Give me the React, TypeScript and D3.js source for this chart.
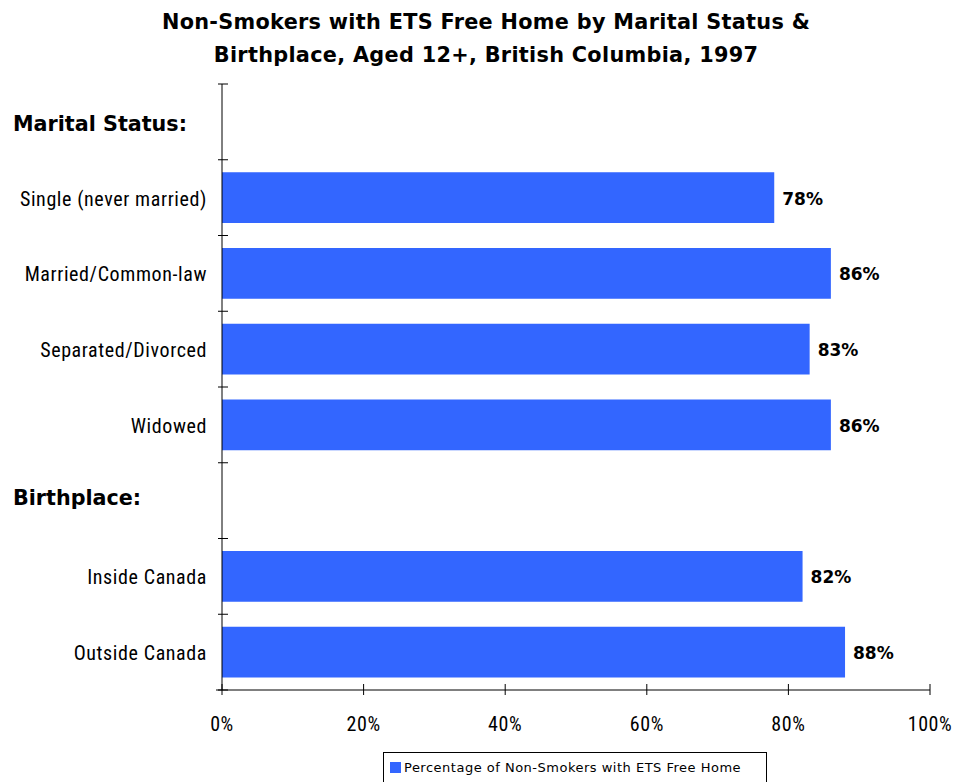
import React from "react";
import * as d3 from "d3";

const categories = [
  "Marital Status:",
  "Single (never married)",
  "Married/Common-law",
  "Separated/Divorced",
  "Widowed",
  "Birthplace:",
  "Inside Canada",
  "Outside Canada",
];
const headers = ["Marital Status:", "Birthplace:"];
const values: (number | null)[] = [null, 78, 86, 83, 86, null, 82, 88];
const xTicks = [0, 20, 40, 60, 80, 100];
const titleLines = [
  "Non-Smokers with ETS Free Home by Marital Status &",
  "Birthplace, Aged 12+, British Columbia, 1997",
];
const legendLabel = "Percentage of Non-Smokers with ETS Free Home";

export default function App() {
  const W = 955, H = 782;
  const left = 222, right = 930, top = 84, bottom = 690;
  const x = d3.scaleLinear().domain([0, 100]).range([left, right]);
  const y = d3.scaleBand().domain(categories).range([top, bottom]).paddingInner(0.33).paddingOuter(0.165);
  const band = d3.scaleBand().domain(categories).range([top, bottom]);
  const narrow = "'Liberation Sans Narrow', 'Arial Narrow', 'Roboto Condensed', sans-serif";
  const boldFont = "Tahoma, 'DejaVu Sans', Verdana, sans-serif";
  const blue = "#3366FF";
  const boundaries = categories.map((c) => band(c) as number).concat([bottom]);
  const headerShift: Record<string, number> = { "Marital Status:": 2, "Birthplace:": -3 };
  return (
    <svg width={W} height={H} style={{ position: "absolute", left: 0, top: 0, background: "#fff" }}>
      {titleLines.map((t, i) => (
        <text key={i} x={486} y={29 + i * 33} textAnchor="middle" fontFamily={boldFont} fontWeight="bold" fontSize={20.8} fill="#000" letterSpacing={0.3}>
          {t}
        </text>
      ))}
      {categories.map((c, i) => {
        const v = values[i];
        const yc = (y(c) as number) + y.bandwidth() / 2;
        if (headers.includes(c)) {
          return (
            <text key={c} x={13} y={yc + 7 + headerShift[c]} fontFamily={boldFont} fontWeight="bold" fontSize={20.7} fill="#000">
              {c}
            </text>
          );
        }
        return (
          <g key={c}>
            <text x={207} y={yc + 8} textAnchor="end" fontFamily={narrow} fontSize={20} letterSpacing={0.6} fill="#000">
              {c}
            </text>
            {v !== null && (
              <>
                <rect x={x(0)} y={y(c)} width={x(v) - x(0)} height={y.bandwidth()} fill={blue} />
                <text x={x(v) + 8} y={yc + 7} fontFamily={boldFont} fontWeight="bold" fontSize={17} fill="#000">
                  {v}%
                </text>
              </>
            )}
          </g>
        );
      })}
      <line x1={left} x2={left} y1={top} y2={bottom} stroke="#000" strokeWidth={1} />
      {boundaries.map((b, i) => (
        <line key={i} x1={left - 4} x2={left + 6} y1={b} y2={b} stroke="#000" strokeWidth={1} />
      ))}
      <line x1={216} x2={right} y1={bottom} y2={bottom} stroke="#000" strokeWidth={1} />
      {xTicks.map((t) => (
        <g key={t}>
          <line x1={x(t)} x2={x(t)} y1={bottom - 6} y2={bottom + 5} stroke="#000" strokeWidth={1} />
          <text x={x(t)} y={731} textAnchor="middle" fontFamily={narrow} fontSize={20} letterSpacing={0.6} fill="#000">
            {t}%
          </text>
        </g>
      ))}
      <rect x={383.5} y={752.5} width={383} height={40} fill="#fff" stroke="#000" strokeWidth={1} />
      <rect x={390} y={762} width={11} height={11} fill={blue} />
      <text x={404} y={772} fontFamily={boldFont} fontSize={13} fill="#000" letterSpacing={0.5}>
        {legendLabel}
      </text>
    </svg>
  );
}
